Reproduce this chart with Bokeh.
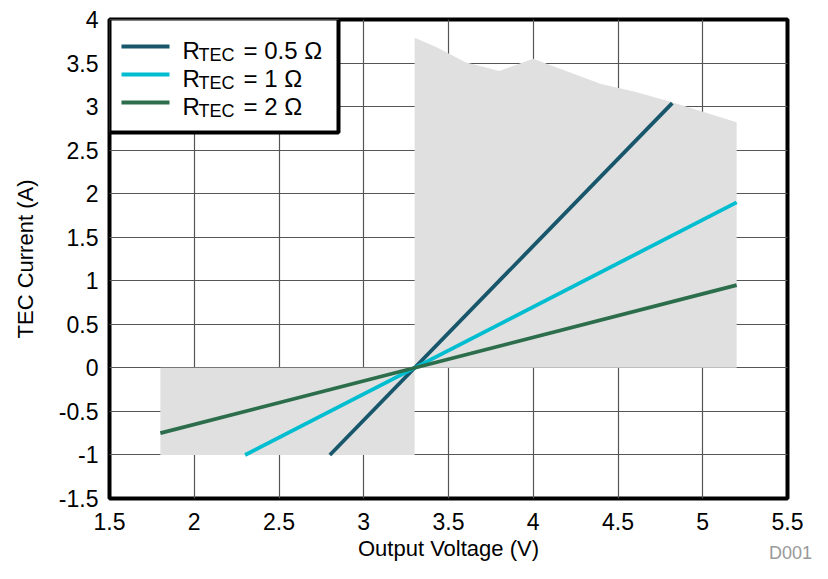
from bokeh.plotting import figure
from bokeh.models import Label, FixedTicker, Range1d, BoxAnnotation, Arrow, Div
from bokeh.layouts import column
from bokeh.embed import file_html
from bokeh.resources import INLINE

# ---- data ----
low_v = [1.8, 3.3]
low_top = [0.0, 0.0]
low_bot = [-1.0, -1.0]

up_v = [3.3, 3.43, 3.6, 3.8, 4.0, 4.4, 4.6, 4.82, 5.2]
up_i = [3.79, 3.68, 3.51, 3.41, 3.55, 3.26, 3.17, 3.05, 2.82]

v_05 = [2.8, 4.82]
i_05 = [-1.0, 3.04]
v_1 = [2.3, 5.2]
i_1 = [-1.0, 1.9]
v_2 = [1.8, 5.2]
i_2 = [-0.75, 0.95]

series_names = ["0.5", "1", "2"]
series_colors = ["#17566b", "#00bdd0", "#2c6e4c"]
x_ticks = [1.5, 2, 2.5, 3, 3.5, 4, 4.5, 5, 5.5]
y_ticks = [-1.5, -1, -0.5, 0, 0.5, 1, 1.5, 2, 2.5, 3, 3.5, 4]

FONT = "Liberation Sans"
W, H = 812, 563
BL, BT, BR, BB = 109, 19, 25, 64
FH = H - BT - BB

p = figure(width=W, height=H, output_backend="svg", toolbar_location=None,
           x_range=Range1d(1.5, 5.5), y_range=Range1d(-1.5, 4),
           min_border_left=BL, min_border_right=BR, min_border_top=BT, min_border_bottom=BB)
p.background_fill_color = "white"
p.border_fill_color = "white"
p.outline_line_color = "black"
p.outline_line_width = 4
p.outline_line_alpha = 1

zero_up = [0.0] * len(up_v)
p.varea(x=low_v, y1=low_bot, y2=low_top, fill_color="#e0e0e0")
p.varea(x=up_v, y1=zero_up, y2=up_i, fill_color="#e0e0e0")

for xs, ys, c in zip([v_05, v_1, v_2], [i_05, i_1, i_2], series_colors):
    p.line(xs, ys, line_color=c, line_width=3.8)

for ax in (p.xaxis[0], p.yaxis[0]):
    ax.axis_line_color = None
    ax.major_tick_line_color = None
    ax.minor_tick_line_color = None
    ax.major_label_text_font = FONT
    ax.major_label_text_font_size = "23px"
    ax.major_label_text_color = "black"
    ax.axis_label_text_font = FONT
    ax.axis_label_text_font_size = "22px"
    ax.axis_label_text_font_style = "normal"
    ax.axis_label_text_color = "black"

p.xaxis[0].ticker = FixedTicker(ticks=x_ticks)
p.yaxis[0].ticker = FixedTicker(ticks=y_ticks)
p.xaxis[0].major_label_overrides = {t: f"{t:g}" for t in x_ticks}
p.yaxis[0].major_label_overrides = {t: f"{t:g}" for t in y_ticks}
p.xaxis[0].axis_label = "Output Voltage (V)"
p.yaxis[0].axis_label = "TEC Current (A)"
p.xaxis[0].major_label_standoff = 8
p.yaxis[0].major_label_standoff = 5
p.xaxis[0].axis_label_standoff = 3
p.yaxis[0].axis_label_standoff = 18

for g in (p.xgrid[0], p.ygrid[0]):
    g.grid_line_color = "#555555"
    g.grid_line_width = 1.2
p.xgrid[0].ticker = FixedTicker(ticks=x_ticks)
p.ygrid[0].ticker = FixedTicker(ticks=y_ticks)

# ---- custom legend (screen units, relative to frame bottom-left) ----
LW, LH = 229, 114
p.add_layout(BoxAnnotation(left=0, right=LW, top=FH, bottom=FH - LH,
                           left_units="screen", right_units="screen",
                           top_units="screen", bottom_units="screen",
                           fill_color="white", fill_alpha=1,
                           line_color="black", line_width=4, line_alpha=1))
for k, (name, c) in enumerate(zip(series_names, series_colors)):
    yc = FH - 28 - 28 * k
    p.add_layout(Arrow(x_start=12, y_start=yc, x_end=60, y_end=yc,
                       start_units="screen", end_units="screen",
                       start=None, end=None, line_color=c, line_width=4))
    yb = FH - 32 - 28 * k
    p.add_layout(Label(x=73, y=yb, x_units="screen", y_units="screen",
                       text="R", text_font=FONT, text_font_size="24px",
                       text_color="black", text_baseline="alphabetic"))
    p.add_layout(Label(x=89, y=yb - 4, x_units="screen", y_units="screen",
                       text="TEC", text_font=FONT, text_font_size="18px",
                       text_color="black", text_baseline="alphabetic"))
    p.add_layout(Label(x=134, y=yb, x_units="screen", y_units="screen",
                       text=f"= {name} \u03a9", text_font=FONT, text_font_size="24px",
                       text_color="black", text_baseline="alphabetic"))

# source tag under the lower right corner
tag = Div(text='<span style="font-family:\'Liberation Sans\';font-size:18px;color:#999999;">D001</span>',
          width=W, height=20, margin=(-20, 0, 0, 0),
          styles={"text-align": "right", "line-height": "20px"})

open("out.html", "w").write(file_html(column(p, tag, spacing=0), INLINE))
